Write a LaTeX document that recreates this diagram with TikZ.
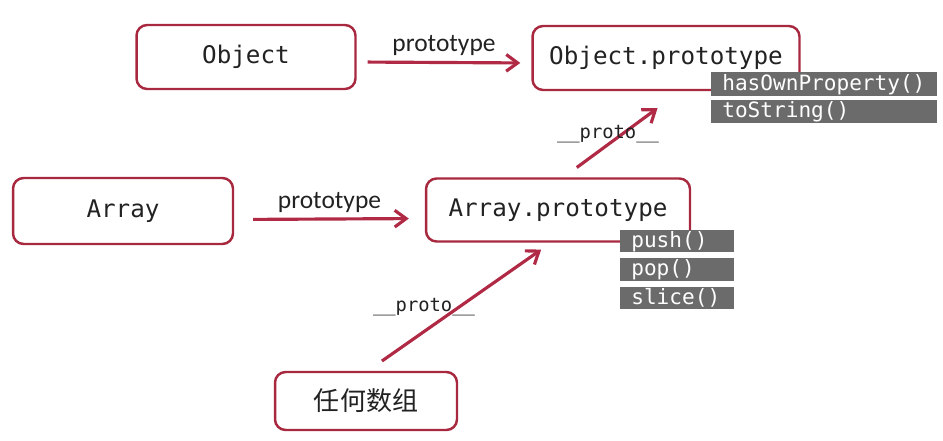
\documentclass[tikz,border=0pt]{standalone}
\usepackage{fontspec}
\setmainfont{Carlito}
\setmonofont{DejaVu Sans Mono}
\newfontfamily\cjk{Noto Sans CJK SC}
\usetikzlibrary{arrows.meta}
\usetikzlibrary{positioning}
\definecolor{boxred}{HTML}{A8283F}
\definecolor{arrowred}{HTML}{B02A45}
\definecolor{methodgray}{HTML}{6B6B6B}
\definecolor{ink}{HTML}{222222}

\begin{document}
\begin{tikzpicture}[
                >={Straight Barb[length=6.5pt, width=9.5pt]},
                x=0.02cm, y=-0.02cm,
                objbox/.style={draw=boxred, line width=1.4pt, rounded corners=6pt, fill=white,
                inner sep=0pt, minimum height=1.28cm, text=ink,
                font=\ttfamily\fontsize{13.8}{16}\selectfont},
                method/.style={fill=methodgray, text=white, anchor=north west, align=left,
                inner xsep=0.22cm, inner ysep=0pt, text width=#1,
                font=\ttfamily\fontsize{12}{14}\selectfont},
                linkarrow/.style={->, line width=1.8pt, draw=arrowred},
                protolabel/.style={font=\rmfamily\fontsize{14.5}{17}\selectfont, text=ink, inner sep=1pt},
                dunderlabel/.style={font=\ttfamily\fontsize{10.7}{13}\selectfont, text=ink},
                ]

                % ── canvas: 943 x 440 px, 1 px = 0.02cm ──
                \useasboundingbox (0,0) rectangle (943,440);

                % ── Constructors and their prototypes ──
                \node[objbox, minimum width=4.38cm] (obj) at (246,57) {Object};
                \node[objbox, minimum width=5.34cm] (objproto) at (666,58) {Object.prototype};
                \node[objbox, minimum width=4.4cm, minimum height=1.32cm] (arr) at (123,211) {Array};
                \node[objbox, minimum width=5.28cm, minimum height=1.26cm] (arrproto) at (558,210) {Array.prototype};
                \node[objbox, minimum width=3.64cm, minimum height=1.16cm,
                      font=\cjk\fontsize{14.8}{18}\selectfont] (anyarr) at (366,401) {任何数组};

                % ── Methods hanging off each prototype ──
                \node[method=4.08cm, minimum height=0.48cm] (hasown) at (711,72) {hasOwnProperty()};
                \node[method=4.08cm, minimum height=0.46cm, below=0.06cm of hasown] (tostr) {toString()};

                \node[method=1.84cm, minimum height=0.44cm] (push) at (620,230) {push()};
                \node[method=1.84cm, minimum height=0.46cm, below=0.1cm of push] (pop) {pop()};
                \node[method=1.84cm, minimum height=0.44cm, below=0.1cm of pop] (slice) {slice()};

                % ── prototype links ──
                \draw[linkarrow, shorten <=0.22cm, shorten >=0.22cm]
                    ([yshift=-0.1cm]obj.east) -- ([yshift=-0.1cm]objproto.west)
                    node[midway, above=2pt, protolabel] {prototype};
                \draw[linkarrow, shorten <=0.38cm, shorten >=0.32cm]
                    ([yshift=-0.17cm]arr.east) -- ([yshift=-0.17cm]arrproto.west)
                    node[midway, above=2pt, protolabel] {prototype};

                % ── __proto__ chain ──
                \draw[linkarrow, shorten <=0.33cm, shorten >=0.57cm]
                    ([xshift=0.11cm]arrproto.north) -- ([xshift=0.29cm]objproto.south)
                    node[midway, xshift=-0.28cm, dunderlabel] {\_\_proto\_\_};
                \draw[linkarrow, shorten <=0.34cm, shorten >=0.24cm]
                    ([xshift=0.04cm]anyarr.north) -- ([xshift=-0.14cm]arrproto.south)
                    node[midway, xshift=-0.71cm, dunderlabel] {\_\_proto\_\_};

                \end{tikzpicture}
\end{document}
